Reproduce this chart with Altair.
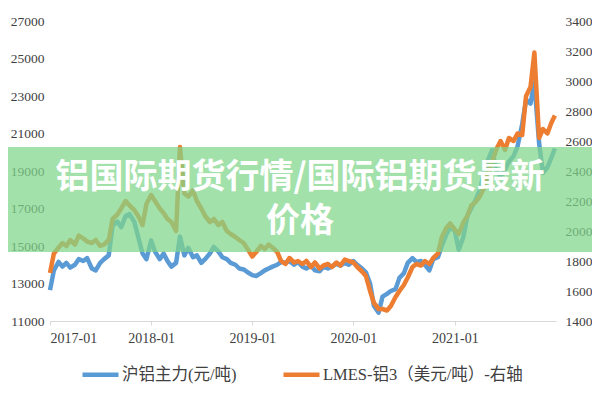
import altair as alt
import pandas as pd

dates = list(pd.date_range("2017-01-01", periods=120, freq="SMS").strftime("%Y-%m-%dT00:00:00")) + ["2021-12-28T00:00:00"]

shfe = [12650, 13700, 14150, 13900, 14100, 13850, 14000, 14300, 14200, 14350,
        13800, 13700, 14100, 14300, 14500, 16100, 16300, 16000, 16600, 16700,
        16300, 15500, 14600, 14300, 15300, 14700, 14300, 14600, 14200, 13900,
        14100, 15500, 14500, 14900, 14400, 14500, 14100, 14300, 14600, 14950,
        14700, 14400, 14300, 14100, 14000, 13800, 13750, 13600, 13450, 13400,
        13550, 13700, 13800, 13900, 14000, 14150, 14100, 14200, 14000, 14150,
        13900, 13800, 13950, 13700, 13650, 13900, 13800, 13900, 14050, 13950,
        14100, 14000, 14200, 14000, 13800, 13600, 13000, 11800, 11450, 12300,
        12450, 12600, 12700, 13300, 13550, 14100, 14350, 14150, 14200, 14000,
        13700, 14300, 14400, 15000, 15600, 16000, 15800, 14800, 15500, 16600,
        17000, 17400, 18000, 18800, 19600, 20100, 19000, 18700, 19100, 19500,
        19800, 20300, 21500, 22800, 22600, 23700, 20500, 18900, 19200, 19700,
        20200]

lme = [1720, 1850, 1890, 1920, 1900, 1940, 1910, 1970, 1950, 1930,
       1920, 1940, 1900, 1910, 1940, 2080, 2110, 2150, 2200, 2170,
       2140, 2100, 2040, 2180, 2240, 2200, 2150, 2120, 2080, 2060,
       2000, 2560, 2250, 2230, 2270, 2200, 2150, 2100, 2060, 2080,
       2040, 2060, 2000, 1980, 1960, 1940, 1920, 1880, 1830, 1860,
       1900, 1880, 1910, 1890, 1860, 1800, 1780, 1820, 1790, 1800,
       1780, 1800, 1760, 1790, 1750, 1770, 1780, 1760, 1790, 1770,
       1810, 1800, 1790, 1760, 1730, 1700, 1600, 1520, 1480, 1480,
       1470, 1500, 1560, 1600, 1640, 1690, 1760, 1780, 1770, 1800,
       1780, 1820, 1850, 1960, 2020, 2050, 2010, 1980, 2060, 2100,
       2170, 2190, 2230, 2280, 2380, 2460, 2550, 2600, 2540, 2620,
       2600, 2650, 2640, 2900, 2960, 3190, 2620, 2680, 2650, 2720,
       2770]

names = ["沪铝主力(元/吨)", "LMES-铝3（美元/吨）-右轴"]
colors = ["#5b9bd5", "#ed7d31"]
banner_lines = ["铝国际期货行情/国际铝期货最新", "价格"]
left_ticks = list(range(11000, 27001, 2000))
right_ticks = list(range(1400, 3401, 200))
year_ticks = [2017, 2018, 2019, 2020, 2021]

df = pd.DataFrame({
    "date": dates * 2,
    "value": shfe + lme,
    "series": [names[0]] * len(dates) + [names[1]] * len(dates),
})

serif = "Liberation Serif"
lab_color = "#404040"

x_enc = alt.X(
    "date:T", title=None,
    scale=alt.Scale(domain=[alt.DateTime(year=2017, month=1, date=1),
                            alt.DateTime(year=2022, month=1, date=1)]),
    axis=alt.Axis(values=[alt.DateTime(year=y, month=1, date=1) for y in year_ticks],
                  format="%Y-%m", grid=False, domainColor="#d9d9d9", tickColor="#d9d9d9",
                  tickSize=4, labelPadding=6, labelFont=serif, labelFontSize=14,
                  labelColor=lab_color),
)

color_enc = alt.Color(
    "series:N",
    scale=alt.Scale(domain=names, range=colors),
    legend=alt.Legend(orient="none", legendX=30, legendY=333, direction="horizontal",
                      title=None, symbolType="stroke", symbolSize=1296,
                      symbolStrokeWidth=4.5, labelFont="Liberation Serif, Noto Sans CJK SC",
                      labelFontSize=16.5, labelColor=lab_color, columnPadding=37,
                      labelOffset=1, padding=0, labelLimit=400),
)

base = alt.Chart(df)

left = base.transform_filter(alt.datum.series == names[0]).mark_line(
    strokeWidth=4.5, strokeJoin="round").encode(
    x=x_enc,
    y=alt.Y("value:Q", title=None,
            scale=alt.Scale(domain=[11000, 27000], nice=False, zero=False),
            axis=alt.Axis(orient="left", values=left_ticks, grid=False, domain=False,
                          ticks=False, labelPadding=6, labelFont=serif,
                          labelFontSize=13.5, labelColor=lab_color, format="d")),
    color=color_enc,
)

right = base.transform_filter(alt.datum.series == names[1]).mark_line(
    strokeWidth=4.5, strokeJoin="round").encode(
    x=x_enc,
    y=alt.Y("value:Q", title=None,
            scale=alt.Scale(domain=[1400, 3400], nice=False, zero=False),
            axis=alt.Axis(orient="right", values=right_ticks, grid=False, domain=False,
                          ticks=False, labelPadding=9, labelFont=serif,
                          labelFontSize=13.5, labelColor=lab_color, format="d")),
    color=color_enc,
)

one = pd.DataFrame({"k": [0]})
banner = alt.Chart(one).mark_rect(fill="#7fd68b", opacity=0.72, clip=False).encode(
    x=alt.value(-42), x2=alt.value(542), y=alt.value(126), y2=alt.value(231))

title_text = alt.Chart(one).mark_text(
    text=banner_lines, font="Noto Sans CJK SC", fontWeight="bold", fontSize=34,
    color="white", align="center", baseline="middle", lineHeight=44).encode(
    x=alt.value(250), y=alt.value(157))

chart = alt.layer(left, right, banner, title_text).resolve_scale(
    y="independent"
).properties(
    width=506, height=300,
    autosize=alt.AutoSizeParams(type="none"),
    padding={"left": 42, "top": 13, "right": 36, "bottom": 66},
    background="white",
).configure_view(stroke=None)

chart.save("out.html", embed_options={"renderer": "svg", "actions": False})
